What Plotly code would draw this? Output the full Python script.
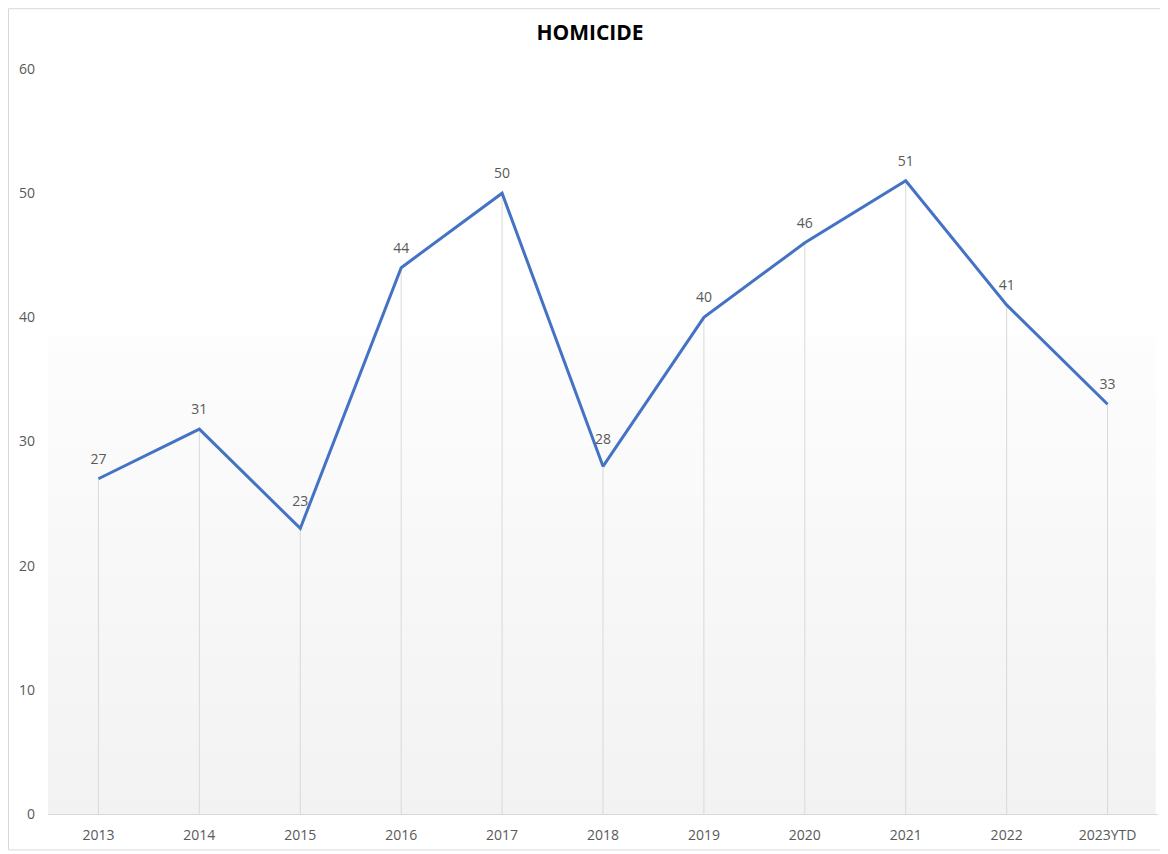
import plotly.graph_objects as go

years = ["2013", "2014", "2015", "2016", "2017", "2018", "2019", "2020", "2021", "2022", "2023YTD"]
homicides = [27, 31, 23, 44, 50, 28, 40, 46, 51, 41, 33]

# page body adds an 8px offset, so the figure is a little smaller than the window
W, H = 1160, 846
L, R, T, B = 40, 10, 61, 38

fig = go.Figure()

# drop lines from each point down to the axis
fig.add_trace(go.Scatter(
    x=years, y=homicides, mode="markers",
    marker=dict(size=1, color="rgba(0,0,0,0)", line=dict(width=0)),
    error_y=dict(type="data", symmetric=False, array=[0] * len(homicides),
                 arrayminus=homicides, color="#d9d9d9", thickness=1, width=0),
    hoverinfo="skip", showlegend=False,
))

# invisible markers push the labels up; valleys get a bit more room
label_gap = [17, 17, 29, 17, 17, 29, 17, 17, 17, 17, 17]
fig.add_trace(go.Scatter(
    x=years, y=homicides, mode="lines+markers+text",
    line=dict(color="#4472c4", width=3),
    marker=dict(size=label_gap, color="rgba(0,0,0,0)", line=dict(width=0)),
    text=[str(v) for v in homicides], textposition="top center",
    textfont=dict(family="Open Sans", size=14, color="#595959"),
    showlegend=False,
))

# gradient-ish plot area fill (white at top fading to light grey)
shapes = []
n = 30
top, bottom = 38.6, 0
for i in range(n):
    y1 = top - (top - bottom) * i / n
    y0 = top - (top - bottom) * (i + 1) / n
    c = round(253 - (253 - 242) * (i + 0.5) / n)
    shapes.append(dict(type="rect", xref="paper", yref="y", x0=0, x1=0.998,
                       y0=y0, y1=y1, fillcolor=f"rgb({c},{c},{c})",
                       line=dict(width=0), layer="below"))
# outer chart border
pw, ph = W - L - R, H - T - B
shapes.append(dict(type="rect", xref="paper", yref="paper",
                   x0=(0.5 - L) / pw, x1=(1158 - L) / pw,
                   y0=-(844 - T - ph) / ph, y1=(H - 0.5 - B) / ph,
                   line=dict(color="#d9d9d9", width=1), fillcolor="rgba(0,0,0,0)",
                   layer="below"))

fig.update_layout(
    width=W, height=H,
    margin=dict(l=L, r=R, t=T, b=B),
    paper_bgcolor="white", plot_bgcolor="white",
    font=dict(family="Open Sans", size=14, color="#595959"),
    title=dict(text="<b>HOMICIDE</b>", x=582 / W, xref="container", xanchor="center",
               y=1 - 25 / H, yref="container", yanchor="middle",
               font=dict(family="Open Sans", size=21, color="#000000")),
    shapes=shapes,
    xaxis=dict(type="category", range=[-0.5, 10.5], showgrid=False,
               showline=True, linecolor="#d9d9d9", linewidth=1,
               ticks="", ticklabelstandoff=8, zeroline=False, fixedrange=True),
    yaxis=dict(range=[0, 60], dtick=10, showgrid=False, showline=False,
               zeroline=False, ticks="", ticklabelstandoff=12, fixedrange=True),
)

fig.write_html("out.html")
